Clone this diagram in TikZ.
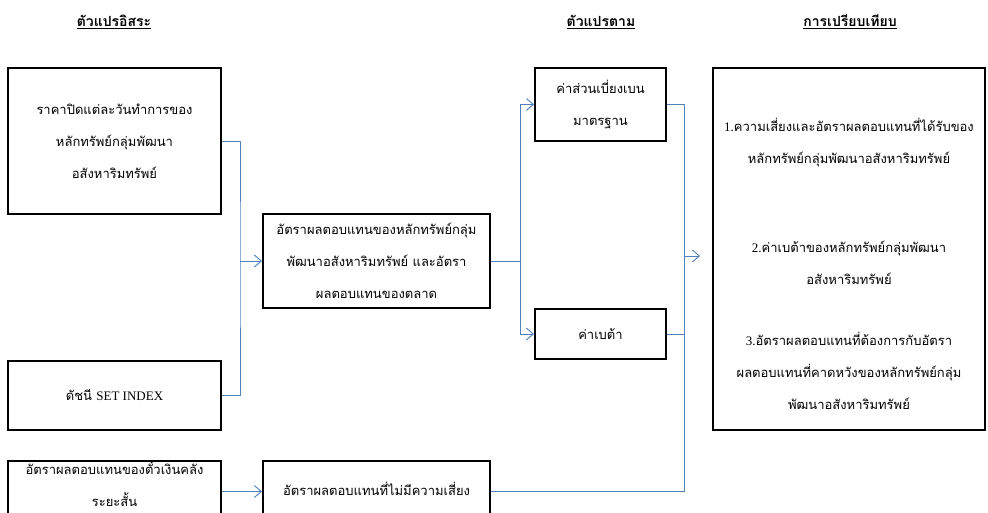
\documentclass[tikz,border=0pt]{standalone}
\usepackage{fontspec}
\setmainfont{Liberation Serif}
\newfontfamily\thaifont[Script=Thai]{Loma}
\usetikzlibrary{arrows.meta}
\definecolor{linkblue}{RGB}{79,129,189}

\begin{document}
\begin{tikzpicture}[x=1pt, y=-1pt,
                    box/.style={draw, line width=2pt, rectangle, align=center, inner sep=0pt,
                                font=\thaifont\fontsize{13}{32}\selectfont},
                    txt/.style={align=center, inner sep=0pt, font=\thaifont\fontsize{13}{32}\selectfont},
                    head/.style={inner sep=0pt, font=\thaifont\bfseries\fontsize{14}{16}\selectfont},
                    wire/.style={draw=linkblue, line width=0.9pt},
                    flow/.style={wire, -{Straight Barb[length=7pt, width=12pt]}}
                    ]
                    \clip (0,0) rectangle (988,513);

                    % headings
                    \node[head] (hind) at (114,22) {\underline{ตัวแปรอิสระ}};
                    \node[head] (hdep) at (601,22) {\underline{ตัวแปรตาม}};
                    \node[head] (hcmp) at (850,22) {\underline{การเปรียบเทียบ}};

                    % independent variables
                    \node[box, minimum width=213pt, minimum height=146pt] (price) at (114.5,141)
                        {ราคาปิดแต่ละวันทำการของ\\หลักทรัพย์กลุ่มพัฒนา\\อสังหาริมทรัพย์};
                    \node[box, minimum width=213pt, minimum height=69pt] (index) at (114.5,395.5)
                        {ดัชนี {\rmfamily SET INDEX}};
                    \node[box, minimum width=213pt, minimum height=61pt] (tbill) at (114.5,491.5) {};
                    \node[txt] (tbilltxt) at (114.5,484)
                        {อัตราผลตอบแทนของตั๋วเงินคลัง\\ระยะสั้น};

                    % returns
                    \node[box, minimum width=227pt, minimum height=94pt] (ret) at (376.5,261)
                        {อัตราผลตอบแทนของหลักทรัพย์กลุ่ม\\พัฒนาอสังหาริมทรัพย์ และอัตรา\\ผลตอบแทนของตลาด};
                    \node[box, minimum width=227pt, minimum height=61pt] (rf) at (376.5,491.5) {};
                    \node[txt] (rftxt) at (376.5,489) {อัตราผลตอบแทนที่ไม่มีความเสี่ยง};

                    % dependent variables
                    \node[box, minimum width=131pt, minimum height=73pt] (sd) at (600.5,104.5)
                        {ค่าส่วนเบี่ยงเบน\\มาตรฐาน};
                    \node[box, minimum width=131pt, minimum height=50pt] (beta) at (600.5,334)
                        {ค่าเบต้า};

                    % comparison
                    \node[box, minimum width=272pt, minimum height=362pt] (cmp) at (849,249) {};
                    \node[txt] (c1) at (849,143) {{\rmfamily 1.}ความเสี่ยงและอัตราผลตอบแทนที่ได้รับของ\\หลักทรัพย์กลุ่มพัฒนาอสังหาริมทรัพย์};
                    \node[txt] (c2) at (849,263) {{\rmfamily 2.}ค่าเบต้าของหลักทรัพย์กลุ่มพัฒนา\\อสังหาริมทรัพย์};
                    \node[txt] (c3) at (849,371) {{\rmfamily 3.}อัตราผลตอบแทนที่ต้องการกับอัตรา\\ผลตอบแทนที่คาดหวังของหลักทรัพย์กลุ่ม\\พัฒนาอสังหาริมทรัพย์};

                    % connectors
                    \coordinate (busA) at (240,261);
                    \coordinate (busB) at (520,261);
                    \coordinate (busC) at (684,256);
                    \coordinate (cmpin) at (700,256);

                    \draw[wire] (price.east) -| (busA) |- (index.east);
                    \draw[flow] (busA) -- (ret.west);
                    \draw[wire] (ret.east) -- (busB);
                    \draw[flow] (busB) |- (sd.west);
                    \draw[flow] (busB) |- (beta.west);
                    \draw[flow] (tbill.east) -- (rf.west);
                    \draw[wire] (sd.east) -| (busC);
                    \draw[wire] (beta.east) -| (busC);
                    \draw[wire] (rf.east) -| (busC);
                    \draw[flow] (busC) -- (cmpin);
                \end{tikzpicture}
\end{document}
